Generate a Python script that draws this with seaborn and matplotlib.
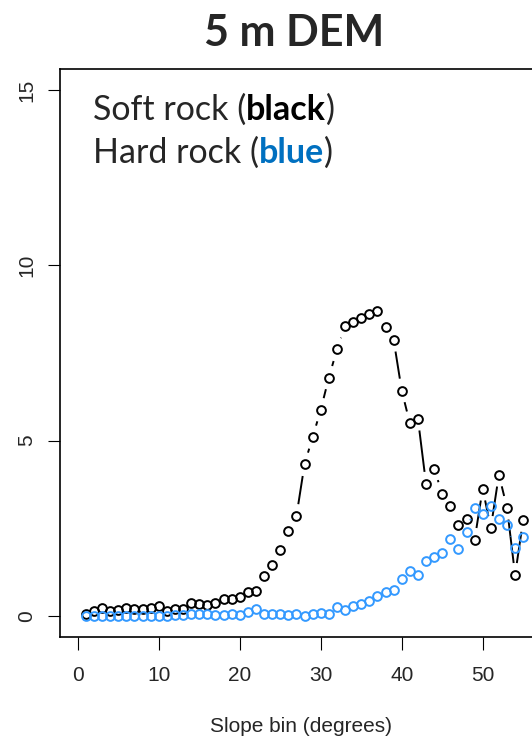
import numpy as np
import matplotlib
matplotlib.use("Agg")
import matplotlib.pyplot as plt
from matplotlib.collections import LineCollection
import seaborn as sns

# slope bins and proportion per bin
slope_bin = np.arange(1, 56)
soft_rock = [0.07, 0.14, 0.23, 0.14, 0.17, 0.23, 0.20, 0.20, 0.23, 0.28,
             0.14, 0.20, 0.20, 0.37, 0.33, 0.30, 0.37, 0.48, 0.48, 0.53,
             0.68, 0.70, 1.14, 1.45, 1.89, 2.42, 2.85, 4.33, 5.10, 5.88,
             6.80, 7.60, 8.26, 8.37, 8.50, 8.62, 8.71, 8.23, 7.88, 6.43,
             5.50, 5.63, 3.77, 4.20, 3.49, 3.14, 2.60, 2.77, 2.17, 3.63,
             2.51, 4.03, 3.09, 1.17, 2.74]
hard_rock = [0.00, 0.01, 0.01, 0.01, 0.01, 0.01, 0.01, 0.01, 0.01, 0.01,
             0.01, 0.03, 0.03, 0.07, 0.07, 0.05, 0.02, 0.02, 0.05, 0.03,
             0.10, 0.20, 0.06, 0.06, 0.05, 0.03, 0.05, 0.00, 0.05, 0.08,
             0.05, 0.26, 0.16, 0.27, 0.35, 0.44, 0.56, 0.67, 0.74, 1.06,
             1.27, 1.17, 1.57, 1.68, 1.80, 2.20, 1.91, 2.40, 3.09, 2.90,
             3.14, 2.77, 2.60, 1.94, 2.26]
x_ticks = [0, 10, 20, 30, 40, 50]
y_ticks = [0, 5, 10, 15]

sns.set_style("ticks")
plt.rcParams["font.family"] = ["Liberation Sans", "DejaVu Sans"]

W, H = 532, 736
fig = plt.figure(figsize=(W / 100, H / 100), dpi=100)
# plot region as in the R figure (right edge falls just outside the crop)
ax = fig.add_axes([60 / W, 1 - 637 / H, 481 / W, 568 / H])
ax.set_xlim(-2.2, 57.2)
ax.set_ylim(-0.6, 15.6)


def gapped(ax, xs, ys, gap=12):
    # R type="b": segments stop short of each point
    tr = ax.transData
    pts = tr.transform(np.column_stack([xs, ys]))
    segs = []
    for p0, p1 in zip(pts[:-1], pts[1:]):
        d = p1 - p0
        L = np.hypot(*d)
        if L > 2 * gap:
            u = d / L
            segs.append(tr.inverted().transform(np.array([p0 + u * gap, p1 - u * gap])))
    return segs


for vals, col in [(soft_rock, "black"), (hard_rock, "#3399ff")]:
    ax.add_collection(LineCollection(gapped(ax, slope_bin, vals), colors=col, linewidths=1.4))
    sns.lineplot(x=slope_bin, y=vals, ax=ax, linestyle="", marker="o", markersize=6.3,
                 markerfacecolor="none", markeredgecolor=col, markeredgewidth=1.4, color=col)

ax.set_xticks(x_ticks)
ax.set_yticks(y_ticks)
ax.tick_params(direction="out", length=9.0, width=0.8, color="black", labelsize=15, pad=12)
ax.tick_params(axis="y", labelrotation=90, pad=8)
for lab in ax.get_yticklabels():
    lab.set_va("center")
for s in ax.spines.values():
    s.set_linewidth(1.2)
    s.set_color("black")
ax.set_xlabel("Slope bin (degrees)", fontsize=15, labelpad=23)
ax.set_ylabel("")

# slide-style overlay text
fig.text(294.5 / W, 1 - 46 / H, "5 m DEM", ha="center", va="baseline",
         fontsize=31, fontweight="bold", family="Lato")

rows = [(120, "Soft rock (", "black", "black"), (163, "Hard rock (", "blue", "#0070c0")]
for base, head, word, col in rows:
    yb = 1 - base / H
    t1 = fig.text(93 / W, yb, head, fontsize=24.5, family="Lato", va="baseline")
    t2 = fig.text(0, yb, word, fontsize=24.5, family="Lato", fontweight="bold", color=col,
                  va="baseline")
    t3 = fig.text(0, yb, ")", fontsize=24.5, family="Lato", va="baseline")
    fig.canvas.draw()
    r = fig.canvas.get_renderer()
    x1 = t1.get_window_extent(r).x1
    t2.set_x(x1 / W)
    x2 = t2.get_window_extent(r).x1
    t3.set_x(x2 / W)

fig.savefig("out.png", dpi=100)
